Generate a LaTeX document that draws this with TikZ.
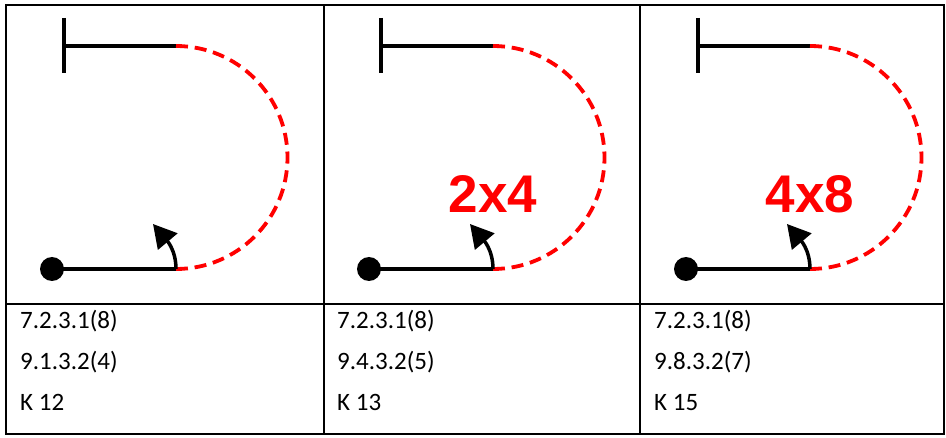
\documentclass[tikz,border=0pt]{standalone}
\usepackage{fontspec}
\setmainfont{Carlito}
\newfontfamily\zahlfont{Liberation Sans}
\usetikzlibrary{arrows.meta}

\tikzset{
    rahmen/.style={line width=2.2pt},
    strich/.style={line width=3.5pt},
    bahn/.style={red, line width=3.8pt, dash pattern=on 12pt off 6.8pt},
    zeile/.style={anchor=base west, inner sep=0pt, font=\fontsize{25}{30}\selectfont},
    anzahl/.style={anchor=base, inner sep=0pt, text=red, font=\zahlfont\bfseries\fontsize{53}{60}\selectfont},
}

\begin{document}
\begin{tikzpicture}[x=1pt,y=1pt]
\useasboundingbox (0,0) rectangle (946,437);

% Tabelle
\draw[rahmen] (6,3) rectangle (944,432);
\draw[rahmen] (6,133) -- (944,133);
\draw[rahmen] (324,3) -- (324,432);
\draw[rahmen] (640,3) -- (640,432);

% Felder
\foreach \i/\a/\b in {0/9.1.3.2(4)/K 12, 1/9.4.3.2(5)/K 13, 2/9.8.3.2(7)/K 15}{
\begin{scope}[xshift=317*\i]
% Punkte
\coordinate (T\i) at (64,391);
\coordinate (E\i) at (176,391);
\coordinate (S\i) at (52,168);
\coordinate (A\i) at (176,168);
\coordinate (P\i) at (153,213);

% Balken oben
\draw[strich] (64,419) -- (64,364);
\draw[strich] (T\i) -- (E\i);

% Bogen
\draw[bahn] (E\i) arc[start angle=90, end angle=-90, radius=111.5];

% Start mit Drehpfeil
\fill (S\i) circle (12);
\draw[strich] (S\i) -- (A\i);
\draw[strich, -{Triangle[length=23pt, width=25pt]}] (A\i) to[out=90, in=-50] (P\i);

% Zeilen
\node[zeile] (r\i) at (20,108) {7.2.3.1(8)};
\node[zeile] (s\i) at (20,67) {\a};
\node[zeile] (k\i) at (20,27) {\b};
\end{scope}
}

% Anzahl
\node[anzahl] (n1) at (493,224) {2x4};
\node[anzahl] (n2) at (810,224) {4x8};

\end{tikzpicture}
\end{document}
